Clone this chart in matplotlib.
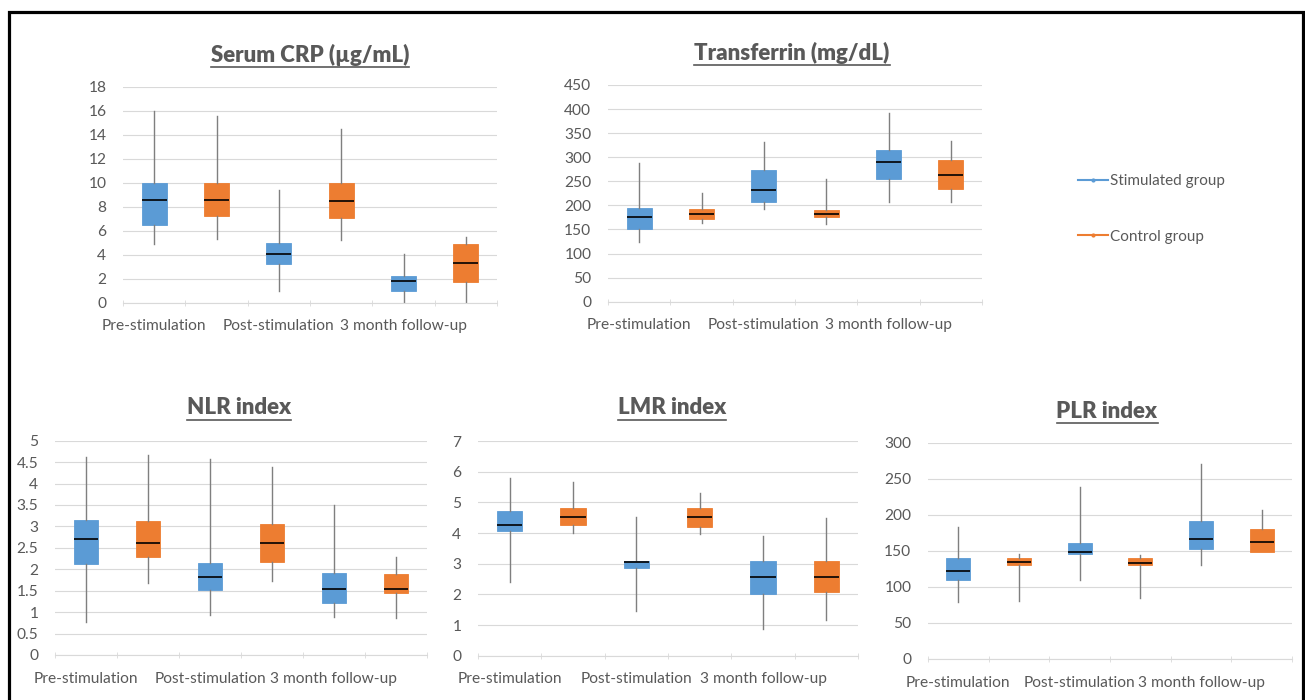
import matplotlib
matplotlib.use("Agg")
import matplotlib.pyplot as plt
from matplotlib.lines import Line2D
from matplotlib.patches import Rectangle
from matplotlib.ticker import FormatStrFormatter, FixedLocator, NullFormatter

plt.rcParams['font.family'] = ['Lato', 'DejaVu Sans']

periods = ["Pre-stimulation", "Post-stimulation", "3 month follow-up"]
groups = ["Stimulated group", "Control group"]
blue = "#5B9BD5"
orange = "#ED7D31"
grey_txt = "#595959"

# order of boxes: stim pre, ctrl pre, stim post, ctrl post, stim 3m, ctrl 3m
# each list: whisker low, q1, median, q3, whisker high
crp_lo  = [4.9, 5.3, 1.0, 5.2, 0.0, 0.1]
crp_q1  = [6.5, 7.2, 3.2, 7.1, 1.0, 1.7]
crp_med = [8.55, 8.6, 4.07, 8.47, 1.84, 3.3]
crp_q3  = [10.0, 10.0, 5.0, 10.0, 2.2, 4.9]
crp_hi  = [16.0, 15.6, 9.4, 14.5, 4.1, 5.5]

tf_lo  = [123, 163, 192, 161, 206, 206]
tf_q1  = [150, 172, 206, 175, 254, 234]
tf_med = [175, 182, 232, 183, 291, 263]
tf_q3  = [194, 192, 273, 190, 315, 294]
tf_hi  = [289, 225, 332, 255, 391, 334]

nlr_lo  = [0.78, 1.67, 0.93, 1.73, 0.88, 0.86]
nlr_q1  = [2.13, 2.29, 1.52, 2.18, 1.21, 1.44]
nlr_med = [2.70, 2.61, 1.83, 2.61, 1.54, 1.53]
nlr_q3  = [3.16, 3.13, 2.15, 3.05, 1.91, 1.89]
nlr_hi  = [4.63, 4.67, 4.57, 4.38, 3.50, 2.28]

lmr_lo  = [2.39, 3.99, 1.47, 3.97, 0.86, 1.18]
lmr_q1  = [4.08, 4.26, 2.87, 4.21, 2.01, 2.09]
lmr_med = [4.26, 4.53, 3.04, 4.53, 2.55, 2.57]
lmr_q3  = [4.73, 4.80, 3.08, 4.80, 3.09, 3.09]
lmr_hi  = [5.80, 5.67, 4.53, 5.32, 3.91, 4.48]

plr_lo  = [79, 80, 109, 84, 130, 148]
plr_q1  = [110, 130, 146, 131, 153, 148]
plr_med = [122, 134, 148, 133, 167, 162]
plr_q3  = [140, 140, 161, 140, 192, 180]
plr_hi  = [183, 145, 238, 144, 271, 206]

panels = [
    ("Serum CRP (µg/mL)", crp_lo, crp_q1, crp_med, crp_q3, crp_hi, 18, 2, "%g",
     [123, 87, 497, 302.7], (310, 55)),
    ("Transferrin (mg/dL)", tf_lo, tf_q1, tf_med, tf_q3, tf_hi, 450, 50, "%g",
     [608, 85, 982, 301.7], (792, 53)),
    ("NLR index", nlr_lo, nlr_q1, nlr_med, nlr_q3, nlr_hi, 5, 0.5, "%g",
     [55, 440.7, 427, 655], (239, 408)),
    ("LMR index", lmr_lo, lmr_q1, lmr_med, lmr_q3, lmr_hi, 7, 1, "%g",
     [478, 441, 858, 655.7], (672, 408)),
    ("PLR index", plr_lo, plr_q1, plr_med, plr_q3, plr_hi, 300, 50, "%g",
     [928, 442.7, 1292, 659], (1107, 412)),
]

W, H = 1305, 700
fig = plt.figure(figsize=(W / 100, H / 100), dpi=100)

titles = []
for title, lo, q1, med, q3, hi, ymax, step, fmt, box, tpos in panels:
    x0, y0, x1, y1 = box
    ax = fig.add_axes([x0 / W, 1 - y1 / H, (x1 - x0) / W, (y1 - y0) / H])
    stats = []
    for i in range(6):
        stats.append({"whislo": lo[i], "q1": q1[i], "med": med[i],
                      "q3": q3[i], "whishi": hi[i], "fliers": []})
    colors = [blue, orange] * 3
    bp = ax.bxp(stats, positions=range(1, 7), widths=0.4, patch_artist=True,
                showcaps=False, showfliers=False,
                medianprops=dict(color="black", linewidth=1.2),
                whiskerprops=dict(color="#7F7F7F", linewidth=1),
                boxprops=dict(linewidth=0.6))
    for patch, c in zip(bp["boxes"], colors):
        patch.set_facecolor(c)
        patch.set_edgecolor(c)
    ax.set_xlim(0.5, 6.5)
    ax.set_ylim(0, ymax)
    n = int(round(ymax / step))
    ax.set_yticks([step * k for k in range(n + 1)])
    ax.yaxis.set_major_formatter(FormatStrFormatter(fmt))
    ax.grid(axis="y", color="#D9D9D9", linewidth=0.8)
    ax.set_axisbelow(True)
    for s in ["top", "right", "left"]:
        ax.spines[s].set_visible(False)
    ax.spines["bottom"].set_color("#D9D9D9")
    ax.set_xticks([1, 3, 5])
    ax.set_xticklabels(periods)
    ax.xaxis.set_minor_locator(FixedLocator([0.5 + k for k in range(7)]))
    ax.xaxis.set_minor_formatter(NullFormatter())
    ax.tick_params(axis="x", which="major", length=0, pad=12,
                   labelsize=11.2, labelcolor=grey_txt)
    ax.tick_params(axis="x", which="minor", length=5, direction="inout",
                   color="#D9D9D9")
    ax.tick_params(axis="y", length=0, pad=12, labelsize=11.2,
                   labelcolor=grey_txt)
    t = fig.text(tpos[0] / W, 1 - tpos[1] / H, title, ha="center", va="center",
                 fontsize=16, fontweight="heavy", color=grey_txt)
    titles.append(t)

# legend
handles = [Line2D([], [], color=blue, marker=".", markersize=4, linewidth=1.5),
           Line2D([], [], color=orange, marker=".", markersize=4, linewidth=1.5)]
fig.legend(handles, groups, loc="center left",
           bbox_to_anchor=(1064 / W, 1 - 209 / H), frameon=False,
           fontsize=11, labelcolor=grey_txt, handlelength=2.0,
           handletextpad=0.1, labelspacing=2.7)

# underline titles
fig.canvas.draw()
r = fig.canvas.get_renderer()
for t in titles:
    bb = t.get_window_extent(r)
    yline = (bb.y0 - 1) / H
    fig.add_artist(Line2D([bb.x0 / W, bb.x1 / W], [yline, yline],
                          color=grey_txt, linewidth=1.2))

# outer frame
fig.add_artist(Rectangle((9 / W, -0.02), (1303 - 9) / W, 1.02 - 12 / H,
                         fill=False, edgecolor="black", linewidth=2.3))

fig.savefig("out.png", dpi=100)
